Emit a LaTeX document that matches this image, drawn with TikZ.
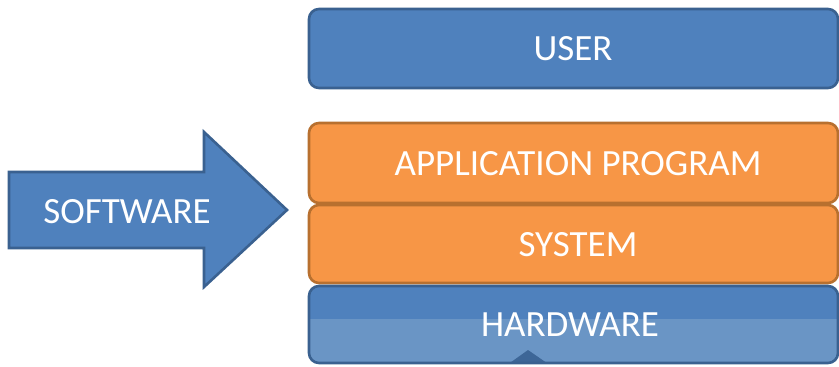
\documentclass[tikz,border=0pt]{standalone}
\usepackage{fontspec}
\setmainfont{Carlito}
\definecolor{layerblue}{HTML}{4F81BD}
\definecolor{layerblueedge}{HTML}{3A6190}
\definecolor{layerbluelight}{HTML}{6A95C5}
\definecolor{layerorange}{HTML}{F79646}
\definecolor{layerorangeedge}{HTML}{B8702F}
\begin{document}
\begin{tikzpicture}[x=1pt,y=-1pt,
  layer/.style={rounded corners=10pt,line width=2.6pt},
  bluelayer/.style={layer,fill=layerblue,draw=layerblueedge},
  orangelayer/.style={layer,fill=layerorange,draw=layerorangeedge},
  lbl/.style={text=white,font=\fontsize{37}{40}\selectfont,inner sep=0pt}]
\useasboundingbox (0,0) rectangle (839,367);
\fill[white] (0,0) rectangle (839,367);

% user layer
\draw[bluelayer] (309,9) rectangle (838,88);
\node[lbl] (user) at (573,49) {USER};

% software layers
\draw[orangelayer] (309,123) rectangle (838,203);
\node[lbl] (app) at (578,164) {APPLICATION PROGRAM};
\draw[orangelayer] (309,205) rectangle (838,283);
\node[lbl] (sys) at (578,245) {SYSTEM};

% hardware layer with lighter lower half
\begin{scope}
  \clip[rounded corners=10pt] (309,286) rectangle (838,363);
  \fill[layerblue] (309,286) rectangle (838,363);
  \fill[layerbluelight] (309,319) rectangle (838,363);
  \fill[layerblueedge!85!layerblue] (500,370) -- (528,350) -- (557,370) -- cycle;
\end{scope}
\draw[layer,draw=layerblueedge] (309,286) rectangle (838,363);
\node[lbl] (hw) at (570,325) {HARDWARE};

% software arrow
\draw[fill=layerblue,draw=layerblueedge,line width=2.6pt,line join=miter]
  (9,172) -- (204,172) -- (204,132) -- (287,210) -- (204,287) -- (204,248) -- (9,248) -- cycle;
\node[lbl] (sw) at (127,212) {SOFTWARE};
\end{tikzpicture}
\end{document}
